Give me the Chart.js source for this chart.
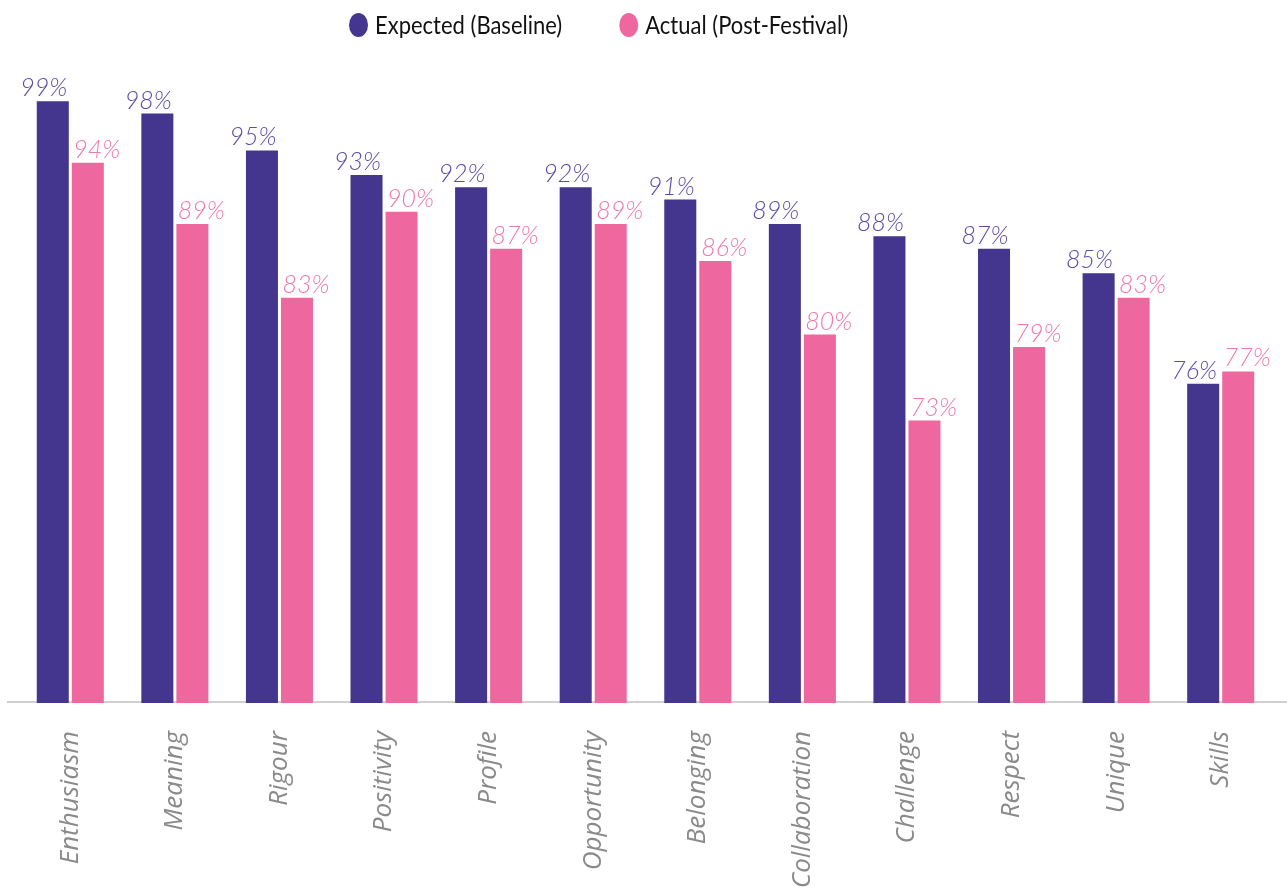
<!DOCTYPE html>
<html>
<head>
<meta charset="utf-8">
<script src="https://cdn.jsdelivr.net/npm/chart.js@4"></script>
<style>
  html, body { margin: 0; padding: 0; background: #fff; }
  #wrap { width: 1287px; height: 888px; }
</style>
</head>
<body>
<div id="wrap"><canvas id="festival-chart"></canvas></div>
<script>
var categories = ["Enthusiasm", "Meaning", "Rigour", "Positivity", "Profile", "Opportunity",
    "Belonging", "Collaboration", "Challenge", "Respect", "Unique", "Skills"];
var expected = [99, 98, 95, 93, 92, 92, 91, 89, 88, 87, 85, 76];
var actual = [94, 89, 83, 90, 87, 89, 86, 80, 73, 79, 83, 77];

var purple = "#44358e";
var pink = "#ee689f";

// percent labels above each bar, nudged outward from the pair
var valueLabels = {
    id: "valueLabels",
    afterDatasetsDraw: function(chart) {
        var ctx = chart.ctx;
        var colors = ["#5a4ea6", "#f07aab"];
        var shift = [-9, 9];
        ctx.save();
        ctx.font = "italic 300 25px Lato";
        ctx.textAlign = "center";
        ctx.textBaseline = "alphabetic";
        chart.data.datasets.forEach(function(ds, i) {
            var meta = chart.getDatasetMeta(i);
            ctx.fillStyle = colors[i];
            meta.data.forEach(function(bar, j) {
                ctx.fillText(ds.data[j] + "%", bar.x + shift[i], bar.y - 5);
            });
        });
        ctx.restore();
    }
};

// light baseline running across the full width
var baseLine = {
    id: "baseLine",
    beforeDatasetsDraw: function(chart) {
        var ctx = chart.ctx;
        var y = chart.chartArea.bottom - 1;
        ctx.save();
        ctx.strokeStyle = "#d0d0d0";
        ctx.lineWidth = 2;
        ctx.beginPath();
        ctx.moveTo(7, y);
        ctx.lineTo(chart.width, y);
        ctx.stroke();
        ctx.restore();
    }
};

// legend row: oval swatch + narrow label, wide gap between entries
var topLegend = {
    id: "topLegend",
    afterDraw: function(chart) {
        var ctx = chart.ctx;
        var x = 349, y = 25, squeeze = 0.88;
        ctx.save();
        ctx.font = "25px Lato";
        ctx.textBaseline = "middle";
        ctx.textAlign = "left";
        chart.data.datasets.forEach(function(ds) {
            ctx.fillStyle = ds.backgroundColor;
            ctx.beginPath();
            ctx.ellipse(x + 9.5, y, 9.5, 12, 0, 0, Math.PI * 2);
            ctx.fill();
            ctx.fillStyle = "#111";
            ctx.save();
            ctx.translate(x + 26, y + 1);
            ctx.scale(squeeze, 1);
            ctx.fillText(ds.label, 0, 0);
            ctx.restore();
            x += 26 + ctx.measureText(ds.label).width * squeeze + 57;
        });
        ctx.restore();
    }
};

new Chart("festival-chart", {
    type: "bar",
    data: {
        labels: categories,
        datasets: [{
            label: "Expected (Baseline)",
            data: expected,
            backgroundColor: purple,
            categoryPercentage: 0.67,
            barPercentage: 0.914
        }, {
            label: "Actual (Post-Festival)",
            data: actual,
            backgroundColor: pink,
            categoryPercentage: 0.67,
            barPercentage: 0.914
        }]
    },
    options: {
        responsive: true,
        maintainAspectRatio: false,
        animation: false,
        layout: { padding: { left: 18, right: 14, top: 89, bottom: 0 } },
        plugins: {
            legend: { display: false },
            tooltip: { enabled: false }
        },
        scales: {
            y: {
                display: false,
                min: 50,
                max: 100
            },
            x: {
                grid: { display: false, drawTicks: false },
                border: { display: false },
                ticks: {
                    minRotation: 90,
                    maxRotation: 90,
                    padding: 28,
                    color: "#8a8a8a",
                    font: { family: "Open Sans", style: "italic", size: 26 }
                },
                afterFit: function(scale) { scale.height = 185; }
            }
        }
    },
    plugins: [baseLine, valueLabels, topLegend]
});
</script>
</body>
</html>
